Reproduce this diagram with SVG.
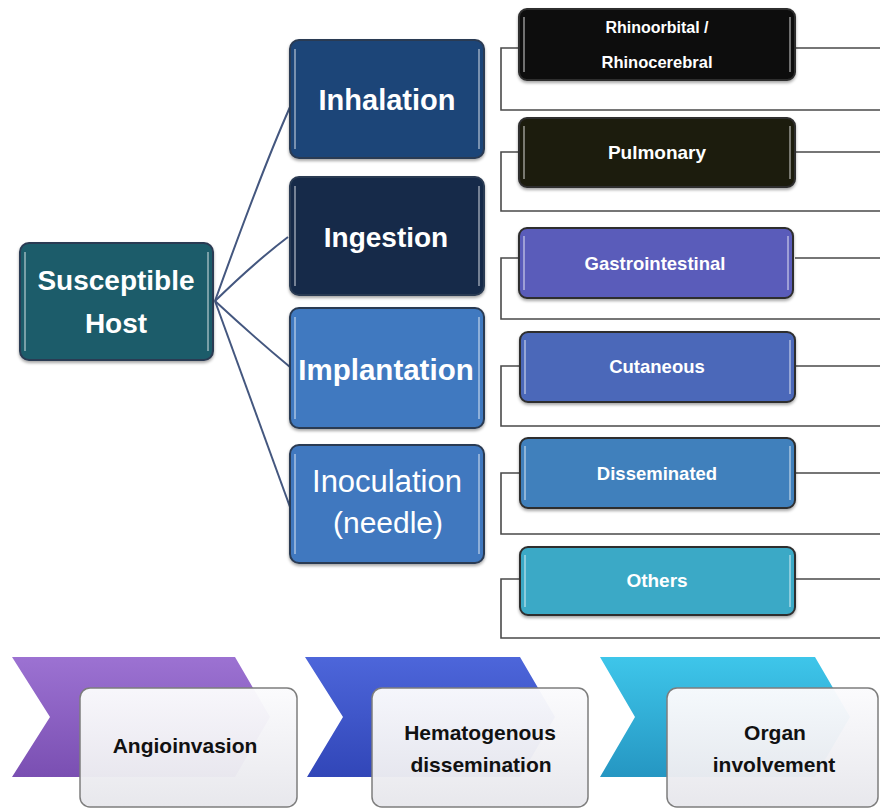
<svg xmlns="http://www.w3.org/2000/svg" width="880" height="809" viewBox="0 0 880 809">
<defs>
<linearGradient id="gPurple" x1="0" y1="0" x2="0" y2="1"><stop offset="0" stop-color="#9c72d2"/><stop offset="1" stop-color="#7a4fb2"/></linearGradient>
<linearGradient id="gBlue" x1="0" y1="0" x2="0" y2="1"><stop offset="0" stop-color="#4d66da"/><stop offset="1" stop-color="#3146b8"/></linearGradient>
<linearGradient id="gCyan" x1="0" y1="0" x2="0" y2="1"><stop offset="0" stop-color="#3ec6ea"/><stop offset="1" stop-color="#2596c2"/></linearGradient>
<linearGradient id="gWhite" x1="0" y1="0" x2="0" y2="1"><stop offset="0" stop-color="#fbfbfd"/><stop offset="1" stop-color="#e7e7ec"/></linearGradient>
<filter id="sh" x="-10%" y="-10%" width="120%" height="130%"><feDropShadow dx="0" dy="2" stdDeviation="1.5" flood-color="#000" flood-opacity="0.35"/></filter>
</defs>
<style>
.big{stroke:#2b3b52;stroke-width:2;filter:url(#sh)}
.small{stroke:#2e2e2e;stroke-width:2;filter:url(#sh)}
.hl{stroke:#ffffff;stroke-opacity:0.55;stroke-width:1.5;fill:none}
.wt{fill:#ffffff;font-family:"Liberation Sans",Arial,sans-serif;text-anchor:middle}
.bt{fill:#111111;font-family:"Liberation Sans",Arial,sans-serif;font-weight:bold;font-size:21px;text-anchor:middle}
.hostline{stroke:#44577f;stroke-width:2;fill:none}
.br{stroke:#4a4a4a;stroke-width:1.6;fill:none}
.card{fill:url(#gWhite);fill-opacity:0.97;stroke:#7d7d7d;stroke-width:1.5}
</style>
<rect width="880" height="809" fill="#ffffff"/>

<g id="connectors">
<path class="hostline" d="M215,301 Q262,170 290,107"/>
<path class="hostline" d="M215,301 Q255,262 288,237"/>
<path class="hostline" d="M215,301 Q255,338 290,367"/>
<path class="hostline" d="M215,301 Q262,430 290,507"/>
<path class="br" d="M519,48 H501 V110 H880 M795,48 H880"/>
<path class="br" d="M519,152 H501 V211 H880 M795,152 H880"/>
<path class="br" d="M519,258 H501 V319 H880 M795,258 H880"/>
<path class="br" d="M519,366 H501 V426 H880 M795,366 H880"/>
<path class="br" d="M519,473 H501 V534 H880 M795,473 H880"/>
<path class="br" d="M519,579 H501 V638 H880 M795,579 H880"/>
</g>

<g id="host">
<rect class="big" x="20" y="243" width="193" height="117" rx="9" fill="#1f5b6b"/>
<path class="hl" d="M25,252 V351 M208,252 V351"/>
<text class="wt" x="116" y="290" font-size="28" font-weight="bold">Susceptible</text>
<text class="wt" x="116" y="333" font-size="28" font-weight="bold">Host</text>
</g>

<g id="inhalation">
<rect class="big" x="290" y="40" width="194" height="118" rx="9" fill="#1e4478"/>
<path class="hl" d="M295,49 V149 M479,49 V149"/>
<text class="wt" x="387" y="110" font-size="29" font-weight="bold">Inhalation</text>
</g>

<g id="ingestion">
<rect class="big" x="290" y="177" width="194" height="118" rx="9" fill="#14294a"/>
<path class="hl" d="M295,186 V286 M479,186 V286"/>
<text class="wt" x="386" y="247" font-size="28" font-weight="bold">Ingestion</text>
</g>

<g id="implantation">
<rect class="big" x="290" y="308" width="194" height="120" rx="9" fill="#3f79c0"/>
<path class="hl" d="M295,317 V419 M479,317 V419"/>
<text class="wt" x="386" y="380" font-size="29.5" font-weight="bold">Implantation</text>
</g>

<g id="inoculation">
<rect class="big" x="290" y="445" width="194" height="118" rx="9" fill="#3f78bf"/>
<path class="hl" d="M295,454 V554 M479,454 V554"/>
<text class="wt" x="387" y="492" font-size="31">Inoculation</text>
<text class="wt" x="388" y="533" font-size="30">(needle)</text>
</g>

<g id="rhino">
<rect class="small" x="519" y="9" width="276" height="71" rx="8" fill="#0c0c0c"/>
<path class="hl" d="M524,17 V72 M790,17 V72"/>
<text class="wt" x="657" y="33" font-size="16" font-weight="bold">Rhinoorbital /</text>
<text class="wt" x="657" y="68" font-size="16.5" font-weight="bold">Rhinocerebral</text>
</g>

<g id="pulmonary">
<rect class="small" x="519" y="118" width="276" height="69" rx="8" fill="#1f1d10"/>
<path class="hl" d="M524,126 V179 M790,126 V179"/>
<text class="wt" x="657" y="159" font-size="19" font-weight="bold">Pulmonary</text>
</g>

<g id="gastrointestinal">
<rect class="small" x="519" y="228" width="274" height="70" rx="8" fill="#5a5cba"/>
<path class="hl" d="M524,236 V290 M788,236 V290"/>
<text class="wt" x="655" y="270" font-size="18.5" font-weight="bold">Gastrointestinal</text>
</g>

<g id="cutaneous">
<rect class="small" x="520" y="332" width="275" height="70" rx="8" fill="#4b67b9"/>
<path class="hl" d="M525,340 V394 M790,340 V394"/>
<text class="wt" x="657" y="373" font-size="18.5" font-weight="bold">Cutaneous</text>
</g>

<g id="disseminated">
<rect class="small" x="520" y="438" width="275" height="70" rx="8" fill="#3f80bc"/>
<path class="hl" d="M525,446 V500 M790,446 V500"/>
<text class="wt" x="657" y="480" font-size="18.5" font-weight="bold">Disseminated</text>
</g>

<g id="others">
<rect class="small" x="520" y="547" width="275" height="68" rx="8" fill="#3aa9c6"/>
<path class="hl" d="M525,555 V607 M790,555 V607"/>
<text class="wt" x="657" y="587" font-size="19" font-weight="bold">Others</text>
</g>

<g id="angioinvasion">
<polygon points="12,657 235,657 270,717 235,777 12,777 50,717" fill="url(#gPurple)"/>
<rect class="card" x="80" y="688" width="217" height="119" rx="10"/>
<text class="bt" x="185" y="753">Angioinvasion</text>
</g>

<g id="hematogenous">
<polygon points="305,657 520,657 555,717 520,777 307,777 343,717" fill="url(#gBlue)"/>
<rect class="card" x="372" y="688" width="216" height="119" rx="10"/>
<text class="bt" x="480" y="740">Hematogenous</text>
<text class="bt" x="481" y="772">dissemination</text>
</g>

<g id="organ">
<polygon points="600,657 815,657 850,717 815,777 600,777 635,717" fill="url(#gCyan)"/>
<rect class="card" x="667" y="688" width="211" height="119" rx="10"/>
<text class="bt" x="775" y="740">Organ</text>
<text class="bt" x="774" y="772">involvement</text>
</g>
</svg>
